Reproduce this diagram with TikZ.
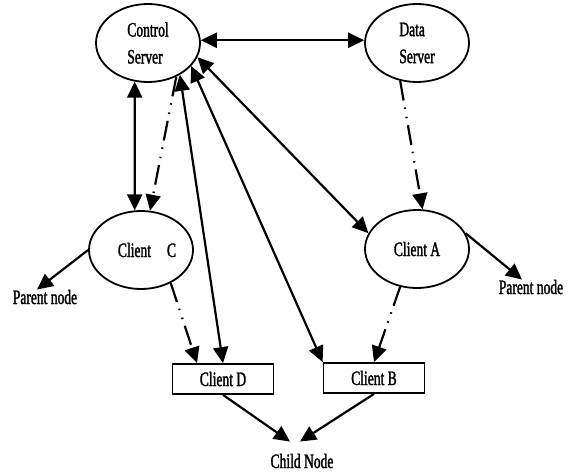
\documentclass[tikz,border=0pt]{standalone}
\usepackage{fontspec}
\setmainfont{Liberation Serif}[FakeStretch=0.66,FakeBold=1.5]
\usetikzlibrary{shapes.geometric,arrows.meta}
\begin{document}
\begin{tikzpicture}[x=1pt,y=-1pt,
  every node/.style={font=\fontsize{20.5}{27}\selectfont},
  server/.style={ellipse,draw,line width=1.8pt,minimum width=104pt,minimum height=78pt,align=left,inner sep=0pt},
  box/.style={rectangle,draw,line width=1.8pt,minimum width=101pt,minimum height=30pt,inner sep=0pt},
  label/.style={inner sep=2pt},
  bigtri/.tip={Triangle[length=16pt,width=15pt]},
  link/.style={line width=2.2pt},
  twoway/.style={link,bigtri-bigtri},
  oneway/.style={link,-bigtri},
  dashway/.style={link,-bigtri,dash pattern=on 20pt off 7pt on 1.5pt off 8pt on 1.5pt off 7pt}
]
\useasboundingbox (0,0) rectangle (569,473);

% servers and clients
\node[server] (cs) at (148,43) {Control\\Server};
\node[server] (ds) at (417,43) {Data\\Server};
\node[server] (cc) at (141,250) {\hspace*{12pt}Client\hspace{16pt}C};
\node[server] (ca) at (417,249) {Client A};
\node[box] (cd) at (223,379) {Client D};
\node[box] (cb) at (374,378) {Client B};

% free labels
\node[label] (pl) at (45,297) {Parent node};
\node[label] (pr) at (531,287) {Parent node};
\node[label] (ch) at (302,461) {Child Node};

% two-way links from the control server
\draw[twoway] (cs.3) -- (ds.177);
\draw[twoway] (cs.-109) -- (cc.99);
\draw[twoway] (cs.-45) -- (cd.north);
\draw[twoway] (cs.-28) -- (cb.north west);
\draw[twoway] (cs.-16) -- (ca.162);

% dash-dot-dot links
\draw[dashway] (cs.-50) -- (cc.77);
\draw[dashway] (ds.-114) -- (ca.82);
\draw[dashway] (cc.-48) -- ([xshift=-26pt]cd.north);
\draw[dashway] (ca.-114) -- (cb.north);

% links to parent and child nodes
\draw[oneway] (cc.west) -- ([xshift=-8pt,yshift=-2pt]pl.north);
\draw[oneway] (ca.18) -- ([xshift=-9pt,yshift=-2pt]pr.north);
\draw[oneway] (cd.south) -- ([xshift=-12pt,yshift=10pt]ch.north);
\draw[oneway] (cb.south) -- ([xshift=-2pt,yshift=10pt]ch.north);
\end{tikzpicture}
\end{document}
